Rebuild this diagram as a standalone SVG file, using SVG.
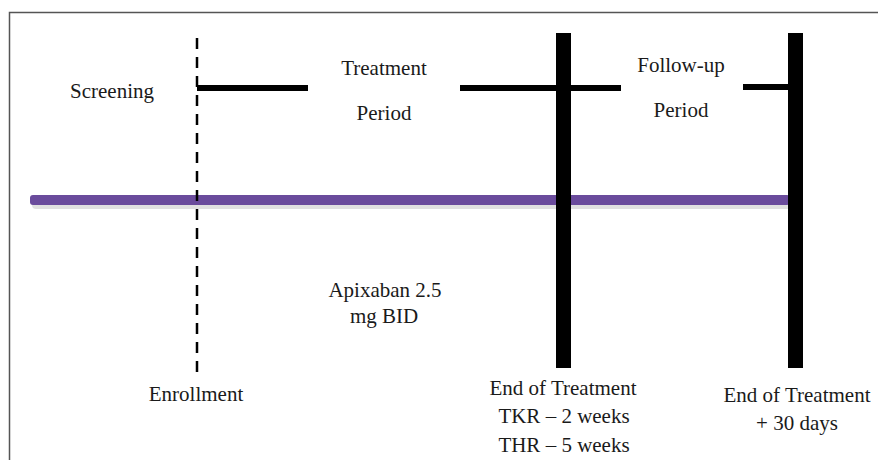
<svg xmlns="http://www.w3.org/2000/svg" width="878" height="460" viewBox="0 0 878 460">
<style>
text{font-family:'Liberation Serif','DejaVu Serif',serif;font-size:21px;fill:#1a1a1a}
.c{text-anchor:middle}
.bar{fill:#000}
.seg{stroke:#000;stroke-width:6;fill:none}
</style>
<rect x="0" y="0" width="878" height="460" fill="#fff"/>
<path d="M9.5,460 V12.5 H878" fill="none" stroke="#555" stroke-width="1.5"/>
<g id="connectors">
<rect x="32" y="199" width="760" height="10" fill="#000" opacity="0.12" rx="4"/>
<rect id="timeline" x="30" y="195" width="760" height="10" rx="3" fill="#6a4b9c"/>
<line x1="197" y1="38" x2="197" y2="372" stroke="#000" stroke-width="2.5" stroke-dasharray="11,8"/>
<line class="seg" x1="197" y1="88" x2="308" y2="88"/>
<line class="seg" x1="460" y1="88" x2="621" y2="88"/>
<line class="seg" x1="743" y1="87" x2="790" y2="87"/>
<rect class="bar" x="556" y="33" width="15" height="335"/>
<rect class="bar" x="788" y="33" width="15" height="335"/>
</g>
<g id="screening"><text x="70" y="98" font-family="Liberation Serif, serif">Screening</text></g>
<g id="treatment-period"><text class="c" x="384" y="75">Treatment</text><text class="c" x="384" y="120">Period</text></g>
<g id="followup-period"><text class="c" x="681" y="72">Follow-up</text><text class="c" x="681" y="117">Period</text></g>
<g id="apixaban"><text class="c" x="385" y="297">Apixaban 2.5</text><text class="c" x="384" y="323">mg BID</text></g>
<g id="enrollment"><text class="c" x="196" y="401">Enrollment</text></g>
<g id="end-of-treatment"><text class="c" x="563" y="395">End of Treatment</text><text class="c" x="564" y="423">TKR – 2 weeks</text><text class="c" x="564" y="452">THR – 5 weeks</text></g>
<g id="end-plus-30"><text class="c" x="797" y="402">End of Treatment</text><text class="c" x="797" y="430">+ 30 days</text></g>
</svg>
